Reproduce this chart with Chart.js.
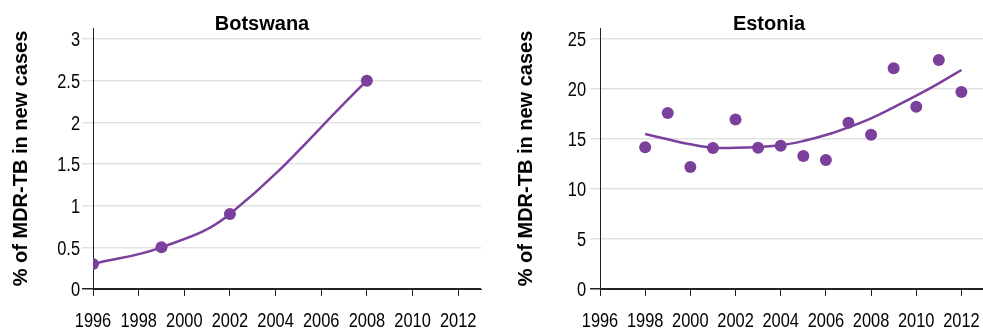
<!DOCTYPE html>
<html>
<head>
<meta charset="utf-8">
<script src="https://cdn.jsdelivr.net/npm/chart.js@4.4.1/dist/chart.umd.min.js"></script>
<style>
  html, body { margin: 0; padding: 0; background: #fff; overflow: hidden; }
  #wrap { position: relative; width: 983px; height: 329px; overflow: hidden; }
  #c1 { position: absolute; left: 0; top: 0; }
  #c2 { position: absolute; left: 490px; top: 0; }
</style>
</head>
<body>
<div id="wrap">
  <canvas id="c1" width="490" height="329"></canvas>
  <canvas id="c2" width="500" height="329"></canvas>
</div>
<script>
// Botswana
const bw_years = [1996, 1999, 2002, 2008];
const bw_values = [0.3, 0.5, 0.9, 2.5];
const bw_yticks = [0, 0.5, 1, 1.5, 2, 2.5, 3];

// Estonia
const ee_years = [1998, 1999, 2000, 2001, 2002, 2003, 2004, 2005, 2006, 2007, 2008, 2009, 2010, 2011, 2012];
const ee_values = [14.17, 17.6, 12.2, 14.1, 16.95, 14.13, 14.33, 13.3, 12.9, 16.63, 15.43, 22.07, 18.23, 22.9, 19.7];
const ee_trend = [15.5, 14.97, 14.47, 14.13, 14.13, 14.2, 14.37, 14.8, 15.4, 16.17, 17.07, 18.17, 19.33, 20.57, 21.9];
const ee_yticks = [0, 5, 10, 15, 20, 25];

const x_ticks = [1996, 1998, 2000, 2002, 2004, 2006, 2008, 2010, 2012];
const y_title = '% of MDR-TB in new cases';

const PURPLE = '#7b409b';
const DARK = '#222';
const GRID = '#e2e2e2';
const FONT = '"Liberation Sans", Arial, sans-serif';

// titulo desenhado a mao para ficar na mesma posicao do original
const titulo = {
  id: 'titulo',
  afterDraw(chart, args, opts) {
    const ctx = chart.ctx;
    ctx.save();
    ctx.font = 'bold 20px ' + FONT;
    ctx.fillStyle = '#000';
    ctx.textAlign = 'center';
    ctx.textBaseline = 'alphabetic';
    ctx.fillText(opts.text, chart.chartArea.left + 169, 30);
    ctx.restore();
  }
};

// rotulos dos eixos com fonte "estreita" (nao ha Arial Narrow instalada)
function textoEstreito(ctx, txt, x, y, align) {
  const w = ctx.measureText(txt).width * 0.82;
  let x0 = x;
  if (align === 'center') x0 = x - w / 2;
  if (align === 'right') x0 = x - w;
  ctx.save();
  ctx.translate(x0, y);
  ctx.scale(0.82, 1);
  ctx.fillText(txt, 0, 0);
  ctx.restore();
}

const rotulos = {
  id: 'rotulos',
  afterDraw(chart, args, opts) {
    const ctx = chart.ctx;
    const sx = chart.scales.x;
    const sy = chart.scales.y;
    ctx.save();
    ctx.font = '20px ' + FONT;
    ctx.fillStyle = '#000';
    ctx.textAlign = 'left';
    ctx.textBaseline = 'alphabetic';
    sx.ticks.forEach(t => {
      textoEstreito(ctx, String(t.value), sx.getPixelForValue(t.value), 326.5, 'center');
    });
    sy.ticks.forEach(t => {
      textoEstreito(ctx, String(t.value), sy.right - opts.gap, sy.getPixelForValue(t.value) + 7.2, 'right');
    });
    ctx.restore();
  }
};

function toPoints(xs, ys) {
  return xs.map((x, i) => ({ x: x, y: ys[i] }));
}

function options(nome, yMax, yTicks, axisW, titlePad, tickLen, gap, padRight) {
  return {
    responsive: false,
    animation: false,
    layout: { padding: { top: 28, right: padRight, left: 0, bottom: 0 } },
    plugins: {
      legend: { display: false },
      tooltip: { enabled: false },
      titulo: { text: nome },
      rotulos: { gap: gap }
    },
    scales: {
      x: {
        type: 'linear',
        min: 1996,
        max: 2013,
        afterFit: s => { s.height = 40; },
        afterBuildTicks: s => { s.ticks = x_ticks.map(v => ({ value: v })); },
        grid: { drawOnChartArea: false, drawTicks: true, tickLength: 7, tickColor: DARK },
        border: { display: true, color: DARK, width: 1 },
        ticks: { display: false }
      },
      y: {
        min: 0,
        max: yMax,
        afterFit: s => { s.width = axisW; },
        afterBuildTicks: s => { s.ticks = yTicks.map(v => ({ value: v })); },
        grid: {
          color: c => (c.tick && c.tick.value === 0 ? DARK : GRID),
          lineWidth: 1.5,
          drawTicks: true,
          tickLength: tickLen
        },
        border: { display: true, color: DARK, width: 1 },
        ticks: { display: false },
        title: {
          display: true,
          text: y_title,
          color: '#000',
          padding: { top: titlePad, bottom: 0 },
          font: { family: FONT, size: 20, weight: 'bold', lineHeight: 1 }
        }
      }
    }
  };
}

new Chart(document.getElementById('c1'), {
  type: 'scatter',
  data: {
    datasets: [{
      label: 'Botswana',
      data: toPoints(bw_years, bw_values),
      showLine: true,
      tension: 0.4,
      borderColor: PURPLE,
      borderWidth: 2.5,
      backgroundColor: PURPLE,
      pointRadius: 6,
      pointBorderWidth: 0
    }]
  },
  options: options('Botswana', 3.132, bw_yticks, 93, 11, 11, 13, 9),
  plugins: [titulo, rotulos]
});

new Chart(document.getElementById('c2'), {
  type: 'scatter',
  data: {
    datasets: [{
      label: 'Estonia',
      data: toPoints(ee_years, ee_values),
      backgroundColor: PURPLE,
      pointRadius: 6,
      pointBorderWidth: 0
    }, {
      label: 'Tendência',
      data: toPoints(ee_years, ee_trend),
      showLine: true,
      tension: 0.4,
      borderColor: PURPLE,
      borderWidth: 2.5,
      pointRadius: 0
    }]
  },
  options: options('Estonia', 26.1, ee_yticks, 110, 26, 10, 14, 2),
  plugins: [titulo, rotulos]
});
</script>
</body>
</html>
